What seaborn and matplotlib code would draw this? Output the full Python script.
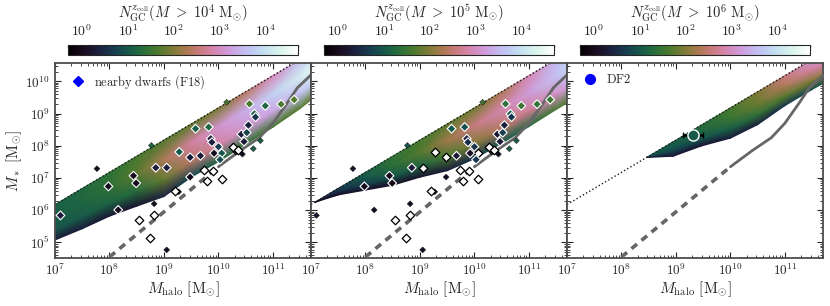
import numpy as np
import pandas as pd
import matplotlib
matplotlib.use("Agg")
import matplotlib.pyplot as plt
import seaborn as sns
from matplotlib.colors import LogNorm
from matplotlib.cm import ScalarMappable
from matplotlib.lines import Line2D

# ---- data ----
f_baryon = 0.15
line_mh = np.array([1e7, 5e11])
x_ticks = [1e7, 1e8, 1e9, 1e10, 1e11]
y_ticks = [1e5, 1e6, 1e7, 1e8, 1e9, 1e10]

# extrapolated (dashed) and fitted (solid) stellar mass - halo mass relation
smhm_dash_logmh = [8.0, 10.0]
smhm_dash_logms = [4.55, 7.35]
smhm_logmh = [10.0, 10.4, 10.75, 11.0, 11.25, 11.45, 11.7]
smhm_logms = [7.35, 7.85, 8.25, 8.7, 9.3, 9.8, 10.2]

# model band: log Mhalo nodes, band depth below f_b*Mhalo (dex), log N_GC at 4 depths
band_frac = [0.0, 0.35, 0.7, 1.0]

p1_mh = [7.0, 7.5, 8.0, 8.5, 9.0, 9.5, 10.0, 10.5, 11.0, 11.5, 11.7]
p1_depth = [1.1, 1.25, 1.36, 1.55, 1.75, 1.65, 1.67, 1.63, 1.6, 1.52, 1.45]
p1_top = [1.1, 1.25, 1.4, 1.6, 1.7, 1.8, 1.95, 2.4, 2.95, 3.6, 3.9]
p1_mid = [1.1, 1.2, 1.4, 1.75, 2.3, 2.8, 3.1, 3.4, 3.8, 4.2, 4.4]
p1_low = [1.0, 1.05, 1.15, 1.3, 1.8, 2.4, 2.8, 3.1, 3.3, 3.6, 3.8]
p1_bot = [0.3, 0.3, 0.25, 0.2, 0.4, 0.8, 1.2, 1.4, 1.6, 1.7, 1.8]

p2_mh = [7.07, 7.5, 8.0, 8.5, 9.0, 9.5, 10.0, 10.5, 11.0, 11.5, 11.7]
p2_depth = [0.0, 0.2, 0.55, 0.9, 1.15, 1.45, 1.58, 1.6, 1.58, 1.55, 1.55]
p2_top = [0.3, 0.7, 1.1, 1.45, 1.6, 1.75, 1.9, 2.3, 2.9, 3.5, 3.8]
p2_mid = [0.3, 0.6, 1.0, 1.35, 1.7, 2.2, 2.6, 2.9, 3.2, 3.6, 3.8]
p2_low = [0.2, 0.4, 0.7, 1.0, 1.2, 1.6, 2.0, 2.4, 2.7, 3.0, 3.2]
p2_bot = [0.1, 0.1, 0.1, 0.1, 0.2, 0.3, 0.6, 1.0, 1.3, 1.6, 1.7]

p3_mh = [8.46, 8.95, 9.47, 10.0, 10.5, 11.0, 11.5, 11.7]
p3_depth = [0.0, 0.45, 0.65, 0.94, 1.02, 0.93, 0.93, 0.94]
p3_top = [1.0, 1.1, 1.3, 1.6, 2.0, 2.6, 3.1, 3.2]
p3_mid = [1.0, 1.0, 1.2, 1.5, 1.85, 2.3, 2.75, 2.9]
p3_low = [0.8, 0.7, 0.9, 1.1, 1.4, 1.7, 2.0, 2.2]
p3_bot = [0.3, 0.2, 0.2, 0.3, 0.4, 0.6, 0.9, 1.0]

# nearby dwarfs (F18): log Mhalo, log Mstar, log N_GC per panel, marker kind per panel
# kind: b = inside model band, s = outside band, o = no GCs
dw_logmh = [7.10, 7.77, 7.98, 8.16, 8.44, 8.49, 8.77, 8.82, 8.85, 9.05,
            9.28, 9.48, 9.48, 9.67, 9.58, 9.82, 9.86, 9.88, 10.00, 9.92,
            10.06, 10.03, 9.20, 9.27, 8.55, 8.81, 8.74, 9.05, 9.74, 9.90,
            9.79, 10.07, 10.08, 10.27, 10.36, 10.32, 10.44, 10.64, 10.77, 10.47,
            10.42, 10.52, 10.55, 10.66, 10.68, 10.15, 10.57, 10.86, 11.15, 11.39]
dw_logms = [5.84, 7.29, 6.74, 6.01, 7.07, 6.84, 8.01, 6.20, 7.32, 7.32,
            7.81, 7.64, 7.03, 7.69, 8.53, 8.58, 8.22, 8.11, 7.97, 7.77,
            7.77, 7.57, 6.61, 6.57, 5.70, 5.86, 5.13, 4.77, 7.24, 7.23,
            6.92, 6.97, 6.93, 7.97, 7.86, 7.80, 7.74, 7.91, 8.16, 8.13,
            8.36, 8.41, 8.64, 8.99, 8.89, 9.35, 9.30, 9.24, 9.29, 9.43]
dw_n1 = [0.3, 0.0, 0.0, 0.05, 0.0, 0.0, 1.2, 0.0, 0.3, 0.35,
         1.0, 0.3, 0.0, 0.3, 1.1, 1.2, 0.3, 0.35, 0.7, 0.05,
         1.0, 0.9, np.nan, 0.0, np.nan, np.nan, np.nan, 0.0, np.nan, np.nan,
         np.nan, np.nan, 0.2, np.nan, np.nan, 0.0, 0.0, 1.1, 1.1, 0.3,
         0.3, 0.8, 0.35, 1.1, 0.6, 1.6, 1.6, 1.2, 1.6, 1.7]
dw_n2 = [0.2, 0.1, 0.0, 0.0, 0.0, 0.0, 1.0, 0.0, 0.3, np.nan,
         np.nan, np.nan, 0.0, 0.3, 1.0, 0.9, 0.3, 0.5, 0.6, 0.1,
         np.nan, 0.6, np.nan, 0.0, np.nan, np.nan, np.nan, 0.0, np.nan, np.nan,
         np.nan, np.nan, 0.2, np.nan, np.nan, 0.0, 0.0, 1.1, 1.1, 0.3,
         0.3, 0.7, 0.35, 1.0, 0.6, 1.5, 1.4, 1.5, 1.4, 1.5]
dw_kind1 = ["b", "s", "b", "b", "b", "b", "s", "s", "b", "b",
            "b", "b", "b", "b", "b", "b", "b", "b", "b", "b",
            "b", "b", "o", "s", "o", "o", "o", "s", "o", "o",
            "o", "o", "s", "o", "o", "s", "s", "s", "s", "b",
            "b", "b", "b", "b", "b", "s", "b", "b", "b", "b"]
dw_kind2 = ["s", "s", "b", "s", "b", "b", "s", "s", "b", "o",
            "o", "o", "s", "b", "b", "b", "b", "b", "b", "b",
            "o", "b", "o", "s", "o", "o", "o", "s", "o", "o",
            "o", "o", "s", "o", "o", "s", "s", "s", "s", "b",
            "b", "b", "b", "b", "b", "s", "b", "b", "b", "b"]

# DF2
df2_logmh, df2_logmh_lo, df2_logmh_hi = 9.31, 9.13, 9.50
df2_logms = 8.34
df2_n = 11

cb_labels = [r"$N_{\rm GC}^{z_{\rm coll}}(M\ >\ 10^4\ \mathrm{M}_{\odot})$",
             r"$N_{\rm GC}^{z_{\rm coll}}(M\ >\ 10^5\ \mathrm{M}_{\odot})$",
             r"$N_{\rm GC}^{z_{\rm coll}}(M\ >\ 10^6\ \mathrm{M}_{\odot})$"]

# ---- style ----
sns.set_theme(style="ticks")
plt.rcParams.update({
    "font.family": "serif",
    "font.serif": ["cmr10", "DejaVu Serif"],
    "mathtext.fontset": "cm",
    "axes.formatter.use_mathtext": True,
    "axes.unicode_minus": False,
})

cmap = plt.get_cmap("cubehelix")
norm = LogNorm(vmin=0.5, vmax=5e4)

fig = plt.figure(figsize=(8.3, 3.06), dpi=100)
W, H = 830.0, 306.0

bands = [
    (p1_mh, p1_depth, [p1_top, p1_mid, p1_low, p1_bot]),
    (p2_mh, p2_depth, [p2_top, p2_mid, p2_low, p2_bot]),
    (p3_mh, p3_depth, [p3_top, p3_mid, p3_low, p3_bot]),
]

df = pd.DataFrame({"mh": 10 ** np.array(dw_logmh), "ms": 10 ** np.array(dw_logms),
                   "n1": 10 ** np.array(dw_n1), "n2": 10 ** np.array(dw_n2),
                   "k1": dw_kind1, "k2": dw_kind2})

axes = []
for i in range(3):
    x0 = 55 + 256 * i
    ax = fig.add_axes([x0 / W, 48 / H, 256 / W, 195 / H])
    axes.append(ax)
    ax.set_xscale("log")
    ax.set_yscale("log")

    # model band
    mh, depth, rows = bands[i]
    mh = np.array(mh)
    frac = np.array(band_frac)[:, None]
    X = np.tile(mh, (len(band_frac), 1))
    Y = X + np.log10(f_baryon) - frac * np.array(depth)[None, :]
    C = 10 ** np.array(rows)
    ax.pcolormesh(10 ** X, 10 ** Y, C, shading="gouraud", cmap=cmap, norm=norm, zorder=1)

    # f_b * Mhalo
    ax.plot(line_mh, f_baryon * line_mh, ls=":", color="k", lw=1.0, zorder=2)

    # SMHM relation
    ax.plot(10 ** np.array(smhm_dash_logmh), 10 ** np.array(smhm_dash_logms),
            ls=(0, (2.0, 1.6)), color="0.4", lw=2.6, zorder=3)
    ax.plot(10 ** np.array(smhm_logmh), 10 ** np.array(smhm_logms),
            ls="-", color="0.4", lw=2.0, zorder=3)

    if i < 2:
        ncol = "n1" if i == 0 else "n2"
        kcol = "k1" if i == 0 else "k2"
        sub = df[df[kcol] == "s"]
        sns.scatterplot(data=sub, x="mh", y="ms", hue=ncol, hue_norm=norm, palette=cmap,
                        marker="D", s=9, edgecolor="0.15", linewidth=0.4,
                        legend=False, ax=ax, zorder=4)
        sub = df[df[kcol] == "o"]
        sns.scatterplot(data=sub, x="mh", y="ms", color="white", marker="D", s=19,
                        edgecolor="black", linewidth=0.9, legend=False, ax=ax, zorder=5)
        sub = df[df[kcol] == "b"]
        sns.scatterplot(data=sub, x="mh", y="ms", hue=ncol, hue_norm=norm, palette=cmap,
                        marker="D", s=20, edgecolor="white", linewidth=0.8,
                        legend=False, ax=ax, zorder=6)
    else:
        ax.errorbar([10 ** df2_logmh], [10 ** df2_logms],
                    xerr=[[10 ** df2_logmh - 10 ** df2_logmh_lo],
                          [10 ** df2_logmh_hi - 10 ** df2_logmh]],
                    fmt="o", ms=8, mfc=cmap(norm(df2_n)), mec="white", mew=1.0,
                    ecolor="black", elinewidth=1.8, capsize=2, capthick=1.2, zorder=6)

    ax.set_xticks(x_ticks)
    ax.set_yticks(y_ticks)
    ax.set_xlim(1e7, 5e11)
    ax.set_ylim(3.3e4, 3.7e10)
    ax.set_xlabel("")
    ax.set_ylabel("")
    ax.tick_params(which="both", direction="in", top=True, right=True, labelsize=9.5)
    ax.tick_params(which="major", length=4, width=0.8)
    ax.tick_params(which="minor", length=2, width=0.6)
    for sp in ax.spines.values():
        sp.set_linewidth(1.3)
        sp.set_color("0.3")
    ax.set_xlabel(r"$M_{\rm halo}\ [\mathrm{M}_{\odot}]$", fontsize=11, labelpad=1)
    if i == 0:
        ax.set_ylabel(r"$M_*\ [\mathrm{M}_{\odot}]$", fontsize=11, labelpad=1)
    else:
        ax.tick_params(labelleft=False)

    # colorbar on top
    cax = fig.add_axes([(68 + 256 * i) / W, (306 - 55) / H, 230 / W, 10 / H])
    cb = fig.colorbar(ScalarMappable(norm=norm, cmap=cmap), cax=cax, orientation="horizontal")
    cb.set_ticks([1e0, 1e1, 1e2, 1e3, 1e4])
    cax.xaxis.set_ticks_position("top")
    cax.xaxis.set_label_position("top")
    cax.tick_params(which="both", direction="in", labelsize=10, pad=4)
    cax.tick_params(which="major", length=3)
    cax.tick_params(which="minor", length=1.5)
    cb.outline.set_linewidth(0.8)
    cb.set_label(cb_labels[i], fontsize=10.5, labelpad=4)

h1 = Line2D([], [], marker="D", color="blue", ls="", ms=5)
axes[0].legend([h1], [r"$\mathrm{nearby\ dwarfs\ (F18)}$"], loc="upper left",
               frameon=False, fontsize=9, handletextpad=0.3, borderaxespad=0.4)
h3 = Line2D([], [], marker="o", color="blue", ls="", ms=7)
axes[2].legend([h3], [r"$\mathrm{DF2}$"], loc="upper left",
               frameon=False, fontsize=9, handletextpad=0.3, borderaxespad=0.4)

fig.savefig("out.png", dpi=100)
